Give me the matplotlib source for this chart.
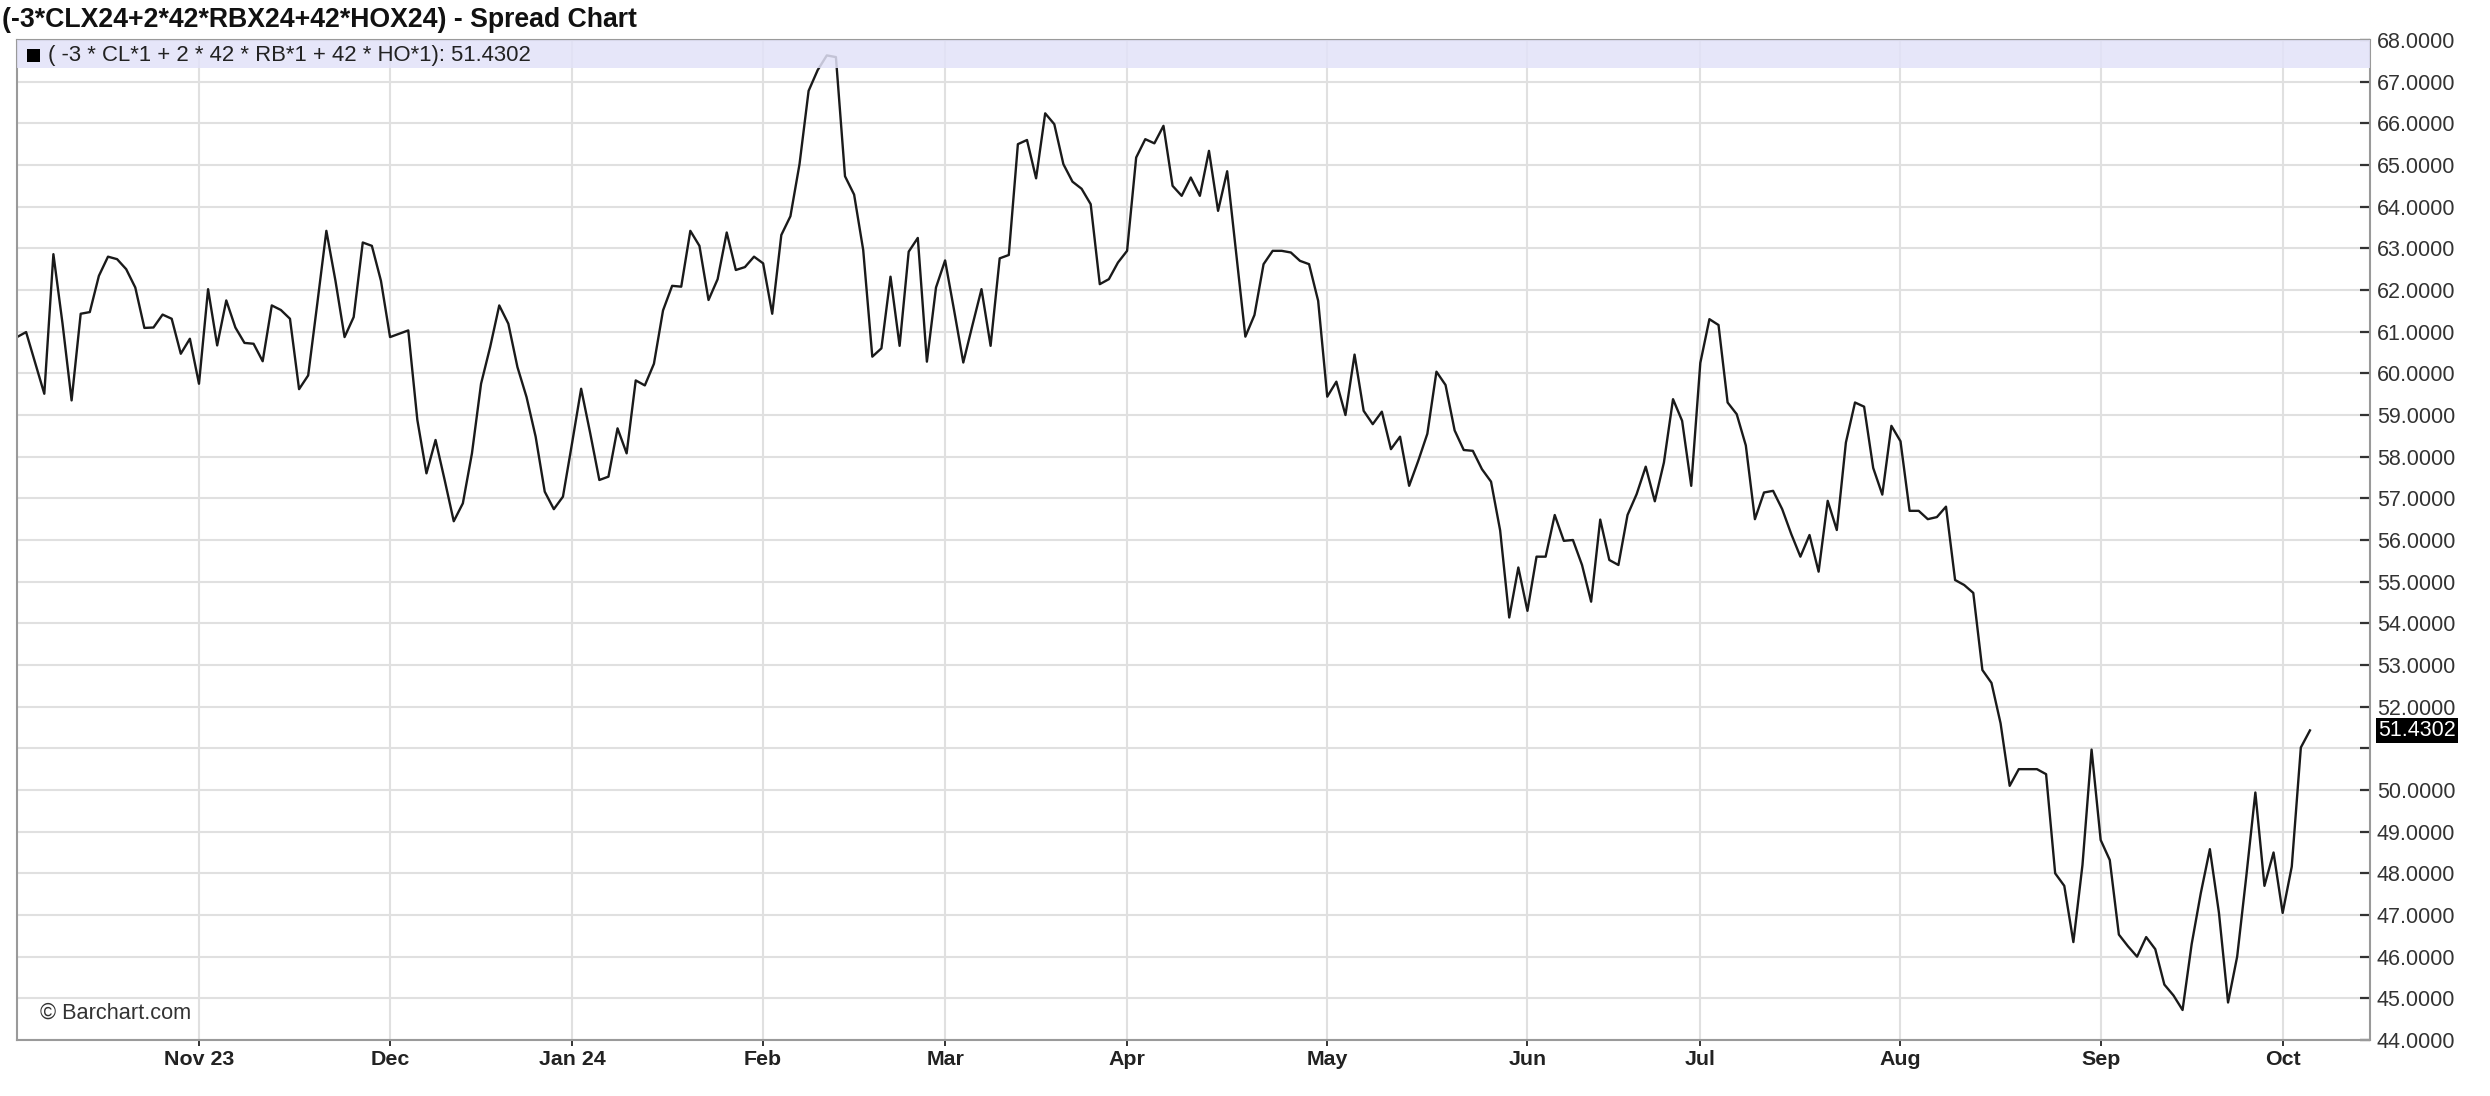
import numpy as np
import pandas as pd
import matplotlib
matplotlib.use("Agg")
import matplotlib.pyplot as plt
import matplotlib.transforms as mtransforms

# daily closes of the spread, one list per month
oct_2023 = [60.87, 60.99, 60.25, 59.51, 62.86, 61.2, 59.35, 61.43, 61.47, 62.34,
            62.8, 62.74, 62.5, 62.06, 61.09, 61.1, 61.41, 61.31, 60.47, 60.83]
nov_2023 = [59.75, 62.02, 60.67, 61.75, 61.1, 60.73, 60.71, 60.29, 61.63, 61.52,
            61.31, 59.62, 59.95, 61.67, 63.42, 62.22, 60.87, 61.35, 63.14, 63.06, 62.22]
dec_2023 = [60.87, 60.95, 61.03, 58.88, 57.6, 58.4, 57.44, 56.45, 56.88, 58.08,
            59.75, 60.63, 61.63, 61.19, 60.15, 59.43, 58.48, 57.16, 56.74, 57.04]
jan_2024 = [58.32, 59.63, 58.56, 57.44, 57.52, 58.68, 58.08, 59.83, 59.71, 60.23,
            61.51, 62.1, 62.08, 63.42, 63.06, 61.76, 62.26, 63.38, 62.48, 62.55, 62.8]
feb_2024 = [62.64, 61.43, 63.32, 63.77, 65.02, 66.78, 67.28, 67.63, 67.59, 64.73,
            64.29, 62.96, 60.4, 60.6, 62.32, 60.66, 62.92, 63.25, 60.28, 62.06]
mar_2024 = [62.71, 61.5, 60.26, 61.15, 62.02, 60.66, 62.76, 62.84, 65.5, 65.6,
            64.68, 66.24, 65.98, 65.02, 64.6, 64.43, 64.06, 62.14, 62.26, 62.66]
apr_2024 = [62.94, 65.18, 65.62, 65.52, 65.94, 64.5, 64.26, 64.7, 64.26, 65.34, 63.9,
            64.85, 62.86, 60.88, 61.4, 62.62, 62.94, 62.94, 62.9, 62.7, 62.62, 61.74]
may_2024 = [59.44, 59.8, 59.0, 60.45, 59.1, 58.78, 59.08, 58.18, 58.48, 57.3, 57.9,
            58.55, 60.04, 59.72, 58.63, 58.16, 58.14, 57.7, 57.4, 56.23, 54.14, 55.34]
jun_2024 = [54.3, 55.6, 55.6, 56.6, 55.98, 56.0, 55.4, 54.52, 56.49, 55.52,
            55.4, 56.6, 57.1, 57.76, 56.93, 57.86, 59.38, 58.86, 57.3]
jul_2024 = [60.25, 61.3, 61.16, 59.3, 59.02, 58.27, 56.5, 57.14, 57.18, 56.74, 56.14,
            55.6, 56.12, 55.24, 56.94, 56.24, 58.34, 59.3, 59.2, 57.73, 57.09, 58.74]
aug_2024 = [58.37, 56.7, 56.7, 56.5, 56.55, 56.8, 55.04, 54.92, 54.73, 52.88, 52.57,
            51.6, 50.1, 50.5, 50.5, 50.5, 50.38, 48.0, 47.7, 46.35, 48.2, 50.97]
sep_2024 = [48.8, 48.32, 46.53, 46.25, 46.0, 46.47, 46.18, 45.33, 45.07, 44.72,
            46.3, 47.52, 48.58, 47.05, 44.9, 46.0, 47.92, 49.94, 47.7, 48.5]
oct_2024 = [47.05, 48.16, 51.02, 51.43]

holidays = ['2023-11-23', '2023-12-25', '2024-01-01', '2024-01-15', '2024-02-19',
            '2024-03-29', '2024-05-27', '2024-06-19', '2024-07-04', '2024-09-02']
month_labels = ['Nov 23', 'Dec', 'Jan 24', 'Feb', 'Mar', 'Apr', 'May', 'Jun',
                'Jul', 'Aug', 'Sep', 'Oct']
y_ticks = list(range(44, 69))
last_value = '51.4302'
title = '(-3*CLX24+2*42*RBX24+42*HOX24) - Spread Chart'
legend_label = '( -3 * CL*1 + 2 * 42 * RB*1 + 42 * HO*1): ' + last_value

values = (oct_2023 + nov_2023 + dec_2023 + jan_2024 + feb_2024 + mar_2024 + apr_2024
          + may_2024 + jun_2024 + jul_2024 + aug_2024 + sep_2024 + oct_2024)
dates = pd.bdate_range('2023-10-04', '2024-10-04', freq='C', holidays=holidays)
x = np.arange(len(values))

# first trading day of each month (skip the partial first month)
month_idx = [i for i in range(1, len(dates)) if dates[i].month != dates[i - 1].month]

plt.rcParams['font.family'] = ['Liberation Sans', 'DejaVu Sans']

W, H = 2490, 1096
fig = plt.figure(figsize=(W / 100, H / 100), dpi=100)
left, right, top, bottom = 17, 2370, 40, 1040
pw = right - left
ax = fig.add_axes([left / W, 1 - bottom / H, pw / W, (bottom - top) / H])

ax.plot(x, values, color='#1a1a1a', lw=1.7, zorder=2)
ax.set_xlim(0, 258.6)
ax.set_ylim(44, 68)

ax.set_xticks(month_idx)
ax.set_xticklabels(month_labels, fontweight='bold', fontsize=15.4, color='#222222')
ax.yaxis.tick_right()
ax.set_yticks(y_ticks)
ax.set_yticklabels(['' if v == 51 else f'{v:.4f}' for v in y_ticks])
ax.tick_params(axis='y', direction='in', length=7, width=1.6, color='#333333',
               labelsize=15.5, labelcolor='#333333', pad=5)
ax.tick_params(axis='x', direction='out', length=4, width=1.4, color='#333333', pad=3)

ax.grid(True, color='#e0e0e0', lw=1.5, zorder=0)
ax.set_axisbelow(True)
for s in ax.spines.values():
    s.set_color('#9a9a9a')
    s.set_linewidth(1.5)

# header band with legend entry
ax.axhspan(67.33, 68, color='#e2e2f8', alpha=0.85, lw=0, zorder=3)
ax.add_patch(plt.Rectangle((10 / pw, 0.9785), 13 / pw, 0.0125, transform=ax.transAxes,
                           facecolor='black', edgecolor='none', zorder=4))
ax.text(31 / pw, 0.9845, legend_label, transform=ax.transAxes,
        fontsize=15.9, color='#222222', va='center', ha='left', zorder=4)

ax.text(23 / pw, 0.027, '\u00a9 Barchart.com', transform=ax.transAxes,
        fontsize=15.7, color='#333333', va='center', ha='left', zorder=4)

trans = mtransforms.blended_transform_factory(ax.transAxes, ax.transData)
ax.text(1 + 8 / pw, float(last_value), last_value, transform=trans,
        fontsize=15.5, color='white', va='center', ha='left', clip_on=False,
        bbox=dict(facecolor='black', edgecolor='none', pad=1.5), zorder=5)

fig.text(2 / W, 1 - 27 / H, title, fontsize=19.2, fontweight='bold', color='#111111',
         va='baseline', ha='left')

fig.savefig('out.png', dpi=100, facecolor='white')
